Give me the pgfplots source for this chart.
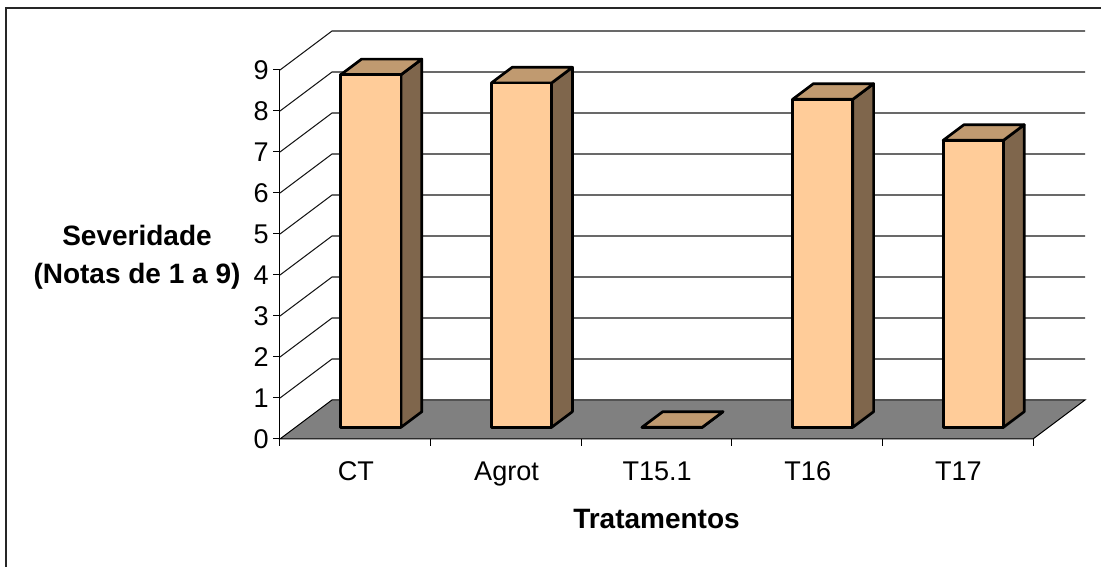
\documentclass[border=0pt]{standalone}
\usepackage{fontspec}
\setmainfont{Liberation Sans}
\usepackage{pgfplots}
\pgfplotsset{compat=1.18}
\definecolor{barfront}{HTML}{FFCC99}
\definecolor{bartop}{HTML}{C09A70}
\definecolor{barside}{HTML}{7F664C}
\definecolor{floorgray}{HTML}{808080}
% one bar: #1 left edge, #2 right edge (in category units), #3 value
\newcommand{\threedbar}[3]{%
  \addplot3[draw=black,line width=2pt,line join=round,fill=barside]
    coordinates {(#2,0.3,0) (#2,0.7,0) (#2,0.7,#3) (#2,0.3,#3)} -- cycle;
  \addplot3[draw=black,line width=2pt,line join=round,fill=bartop]
    coordinates {(#1,0.3,#3) (#2,0.3,#3) (#2,0.7,#3) (#1,0.7,#3)} -- cycle;
  \addplot3[draw=black,line width=2pt,line join=round,fill=barfront]
    coordinates {(#1,0.3,0) (#2,0.3,0) (#2,0.3,#3) (#1,0.3,#3)} -- cycle;
}
\begin{document}
\begin{tikzpicture}[x=0.75pt,y=0.75pt]
\useasboundingbox (-280,-128) rectangle (821,439);
\draw[line width=1.5pt,color=black!85] (-273.5,-128) -- (-273.5,430.5) -- (821,430.5);
\begin{axis}[
  at={(0,0)},anchor=origin,
  x={(112.95pt,0pt)},y={(39pt,29.25pt)},z={(0pt,30.75pt)},
  xmin=0,xmax=5,ymin=0,ymax=1,zmin=0,zmax=9,
  clip=false,
  axis lines=left,
  axis y line=none,
  axis line style={-,line width=0.75pt,black},
  xtick={0.5,1.5,2.5,3.5,4.5},
  xticklabels={CT,Agrot,T15.1,T16,T17},
  ytick=\empty,
  ztick={0,1,2,3,4,5,6,7,8,9},
  tick style={draw=none},
  major tick length=0pt,
  tick label style={font=\fontsize{20.3}{24}\selectfont},
  /pgf/number format/assume math mode=true,
  xticklabel style={anchor=base,yshift=-31.2pt,xshift=0.5pt},
  zticklabel style={anchor=east,xshift=-5pt},
]
% floor
\addplot3[draw=black,line width=0.75pt,fill=floorgray]
  coordinates {(0,0,0) (5,0,0) (5,1,0) (0,1,0)} -- cycle;
% grid lines on the side and back walls
\addplot3[draw=black!90,line width=0.8pt,unbounded coords=jump] coordinates {
 (0,0,1) (0,1,1) (5,1,1) (nan,nan,nan)
 (0,0,2) (0,1,2) (5,1,2) (nan,nan,nan)
 (0,0,3) (0,1,3) (5,1,3) (nan,nan,nan)
 (0,0,4) (0,1,4) (5,1,4) (nan,nan,nan)
 (0,0,5) (0,1,5) (5,1,5) (nan,nan,nan)
 (0,0,6) (0,1,6) (5,1,6) (nan,nan,nan)
 (0,0,7) (0,1,7) (5,1,7) (nan,nan,nan)
 (0,0,8) (0,1,8) (5,1,8) (nan,nan,nan)
 (0,0,9) (0,1,9) (5,1,9)
};
% tick marks
\addplot3[draw=black,line width=0.75pt,unbounded coords=jump] coordinates {
 (0,0,0) (0,0,-0.17) (nan,nan,nan)
 (1,0,0) (1,0,-0.17) (nan,nan,nan)
 (2,0,0) (2,0,-0.17) (nan,nan,nan)
 (3,0,0) (3,0,-0.17) (nan,nan,nan)
 (4,0,0) (4,0,-0.17) (nan,nan,nan)
 (5,0,0) (5,0,-0.17) (nan,nan,nan)
 (0,0,0) (-0.045,0,0) (nan,nan,nan)
 (0,0,1) (-0.045,0,1) (nan,nan,nan)
 (0,0,2) (-0.045,0,2) (nan,nan,nan)
 (0,0,3) (-0.045,0,3) (nan,nan,nan)
 (0,0,4) (-0.045,0,4) (nan,nan,nan)
 (0,0,5) (-0.045,0,5) (nan,nan,nan)
 (0,0,6) (-0.045,0,6) (nan,nan,nan)
 (0,0,7) (-0.045,0,7) (nan,nan,nan)
 (0,0,8) (-0.045,0,8) (nan,nan,nan)
 (0,0,9) (-0.045,0,9)
};
% bars
\threedbar{0.3}{0.7}{8.6}
\threedbar{1.3}{1.7}{8.4}
\threedbar{2.3}{2.7}{0}
\threedbar{3.3}{3.7}{8.0}
\threedbar{4.3}{4.7}{7.0}
\end{axis}
\node[align=center,font=\fontsize{21}{28.5}\selectfont\bfseries] at (-143,182) {Severidade\\(Notas de 1 a 9)};
\node[font=\fontsize{21}{24}\selectfont\bfseries] at (376.5,-80.5) {Tratamentos};
\end{tikzpicture}
\end{document}
